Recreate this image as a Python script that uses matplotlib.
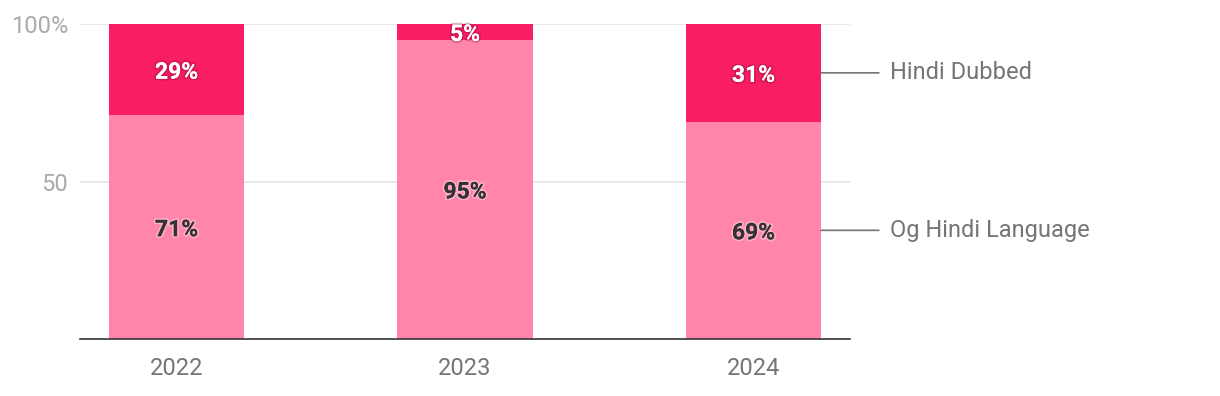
import matplotlib
matplotlib.use("Agg")
import matplotlib.pyplot as plt
import matplotlib.patheffects as pe
import numpy as np

years = ["2022", "2023", "2024"]
og_hindi = [71, 95, 69]
hindi_dubbed = [29, 5, 31]
series_names = ["Og Hindi Language", "Hindi Dubbed"]

plt.rcParams["font.family"] = ["Roboto", "DejaVu Sans"]

light = "#ff85aa"
dark = "#f91e63"

fig = plt.figure(figsize=(12.2, 3.96), dpi=100)
ax = fig.add_axes([0.0656, 0.1439, 0.6311, 0.7955])

x = np.arange(len(years))
w = 0.468
ax.bar(x, og_hindi, w, color=light, zorder=2)
ax.bar(x, hindi_dubbed, w, bottom=og_hindi, color=dark, zorder=2)

ax.set_xlim(-0.3345, 2.3345)
ax.set_ylim(0, 100)

# glow behind the data labels
light_fx = [pe.withStroke(linewidth=2.5, foreground="white", alpha=0.35), pe.Normal()]
dark_fx = [pe.withStroke(linewidth=2.5, foreground="#7a0a30", alpha=0.3), pe.Normal()]
for i in range(len(years)):
    ax.text(x[i], og_hindi[i] / 2, f"{og_hindi[i]}%", ha="center", va="center_baseline",
            fontsize=16.5, fontweight="bold", color="#333333", zorder=3,
            path_effects=light_fx)
    ax.text(x[i], og_hindi[i] + hindi_dubbed[i] / 2, f"{hindi_dubbed[i]}%",
            ha="center", va="center_baseline", fontsize=16.5, fontweight="bold",
            color="white", zorder=3, path_effects=dark_fx)

# series labels on the right of the last bar
last = len(years) - 1
mids = [og_hindi[last] / 2, og_hindi[last] + hindi_dubbed[last] / 2]
for name, ym in zip(series_names, mids):
    ax.annotate(name, xy=(x[last] + w / 2, ym), xycoords="data",
                xytext=(69, 0), textcoords="offset pixels",
                ha="left", va="center", fontsize=17, color="#757575",
                arrowprops=dict(arrowstyle="-", color="#757575", lw=1.2,
                                shrinkA=6, shrinkB=0),
                annotation_clip=False)

ax.set_yticks([50, 100])
ax.set_yticklabels(["50", "100%"])
ax.set_xticks(x)
ax.set_xticklabels(years)
ax.tick_params(axis="y", length=0, labelsize=17, labelcolor="#aaaaaa", pad=8.5)
ax.tick_params(axis="x", length=0, labelsize=17, labelcolor="#757575", pad=13)
ax.yaxis.grid(True, color="#e4e4e4", lw=1.2, zorder=0)
ax.set_axisbelow(True)
for s in ["top", "right", "left"]:
    ax.spines[s].set_visible(False)
ax.spines["bottom"].set_color("#333333")
ax.spines["bottom"].set_linewidth(1.2)

fig.savefig("out.png", dpi=100)
